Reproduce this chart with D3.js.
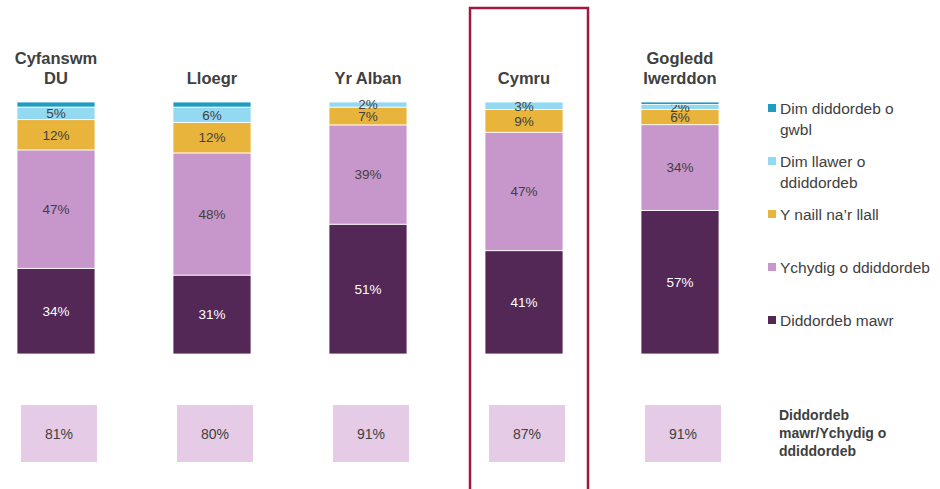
<!DOCTYPE html>
<html>
<head>
<meta charset="utf-8">
<script src="https://cdn.jsdelivr.net/npm/d3@7"></script>
<style>
  body { margin: 0; background: #fff; }
  svg { display: block; font-family: "Liberation Sans", Arial, sans-serif; }
</style>
</head>
<body>
<div id="chart"></div>
<script>
const regions = ["Cyfanswm DU", "Lloegr", "Yr Alban", "Cymru", "Gogledd Iwerddon"];
const regionLines = [["Cyfanswm", "DU"], ["Lloegr"], ["Yr Alban"], ["Cymru"], ["Gogledd", "Iwerddon"]];

const keys = ["mawr", "ychydig", "naill", "llawer", "gwbl"];
const keyLabels = {
  gwbl: ["Dim diddordeb o", "gwbl"],
  llawer: ["Dim llawer o", "ddiddordeb"],
  naill: ["Y naill na\u2019r llall"],
  ychydig: ["Ychydig o ddiddordeb"],
  mawr: ["Diddordeb mawr"]
};

const mawr    = [34, 31, 51, 41, 57];
const ychydig = [47, 48, 39, 47, 34];
const naill   = [12, 12, 7, 9, 6];
const llawer  = [5, 6, 2, 3, 2];
const gwbl    = [2, 2, 0, 0, 1];

const totals = [81, 80, 91, 87, 91];
const totalLabel = ["Diddordeb", "mawr/Ychydig o", "ddiddordeb"];
const highlight = "Cymru";

const colors = {
  gwbl: "#1f9cc4",
  llawer: "#94d9f2",
  naill: "#e9b43b",
  ychydig: "#c797cb",
  mawr: "#532756"
};

const width = 940, height = 489;
const svg = d3.select("#chart").append("svg")
  .attr("width", width).attr("height", height);

const rows = regions.map((r, i) => ({
  region: r, mawr: mawr[i], ychydig: ychydig[i], naill: naill[i], llawer: llawer[i], gwbl: gwbl[i]
}));

// 100% stacked, bottom to top
const stack = d3.stack().keys(keys).offset(d3.stackOffsetExpand);
const series = stack(rows);

const x = d3.scaleBand().domain(regions).range([17, 719]).paddingInner(0.5).paddingOuter(0);
const y = d3.scaleLinear().domain([0, 1]).range([354, 102]);

// highlight frame
svg.append("rect")
  .attr("x", x(highlight) + x.bandwidth() / 2 - 54)
  .attr("y", 8)
  .attr("width", 118)
  .attr("height", 495)
  .attr("fill", "none")
  .attr("stroke", "#a3173f")
  .attr("stroke-width", 2.5);

const g = svg.append("g");

series.forEach(s => {
  const key = s.key;
  g.selectAll(".seg-" + key)
    .data(s)
    .enter()
    .append("rect")
    .attr("x", d => x(d.data.region))
    .attr("width", x.bandwidth())
    .attr("y", d => y(d[1]))
    .attr("height", d => Math.max(0, y(d[0]) - y(d[1])))
    .attr("fill", colors[key])
    .attr("stroke", "#fff")
    .attr("stroke-width", 0.8);

  if (key === "gwbl") return;
  g.selectAll(".lab-" + key)
    .data(s.filter(d => d.data[key] > 0))
    .enter()
    .append("text")
    .attr("x", d => x(d.data.region) + x.bandwidth() / 2)
    .attr("y", d => (y(d[0]) + y(d[1])) / 2)
    .attr("dy", "0.36em")
    .attr("text-anchor", "middle")
    .attr("font-size", 13.5)
    .attr("fill", key === "mawr" ? "#ffffff" : "#404040")
    .text(d => d.data[key] + "%");
});

// region titles
regions.forEach((r, i) => {
  const lines = regionLines[i];
  const cx = x(r) + x.bandwidth() / 2;
  const t = svg.append("text")
    .attr("text-anchor", "middle")
    .attr("font-size", 16.5)
    .attr("font-weight", "bold")
    .attr("fill", "#404040");
  lines.forEach((line, j) => {
    t.append("tspan")
      .attr("x", cx)
      .attr("y", 84 - (lines.length - 1 - j) * 20)
      .text(line);
  });
});

// totals boxes
const bx = d3.scaleBand().domain(regions).range([21, 721]).paddingInner(0.513).paddingOuter(0);
svg.selectAll(".tot")
  .data(regions)
  .enter()
  .append("rect")
  .attr("x", r => bx(r))
  .attr("y", 405)
  .attr("width", bx.bandwidth())
  .attr("height", 57)
  .attr("fill", "#e6cbe6");

svg.selectAll(".totText")
  .data(regions)
  .enter()
  .append("text")
  .attr("x", r => bx(r) + bx.bandwidth() / 2)
  .attr("y", 434)
  .attr("dy", "0.36em")
  .attr("text-anchor", "middle")
  .attr("font-size", 14)
  .attr("fill", "#404040")
  .text((r, i) => totals[i] + "%");

const tl = svg.append("text")
  .attr("font-size", 14)
  .attr("font-weight", "bold")
  .attr("fill", "#404040");
totalLabel.forEach((line, j) => {
  tl.append("tspan").attr("x", 779).attr("y", 420 + j * 18).text(line);
});

// legend
const legendOrder = ["gwbl", "llawer", "naill", "ychydig", "mawr"];
const legendY = [108, 161, 214, 267, 320];
legendOrder.forEach((k, i) => {
  const lg = svg.append("g").attr("transform", `translate(768,${legendY[i]})`);
  lg.append("rect")
    .attr("x", 0).attr("y", -4)
    .attr("width", 8).attr("height", 8)
    .attr("fill", colors[k]);
  const t = lg.append("text")
    .attr("font-size", 15.5)
    .attr("fill", "#404040");
  keyLabels[k].forEach((line, j) => {
    t.append("tspan").attr("x", 12).attr("y", j * 21).attr("dy", "0.36em").text(line);
  });
});
</script>
</body>
</html>
